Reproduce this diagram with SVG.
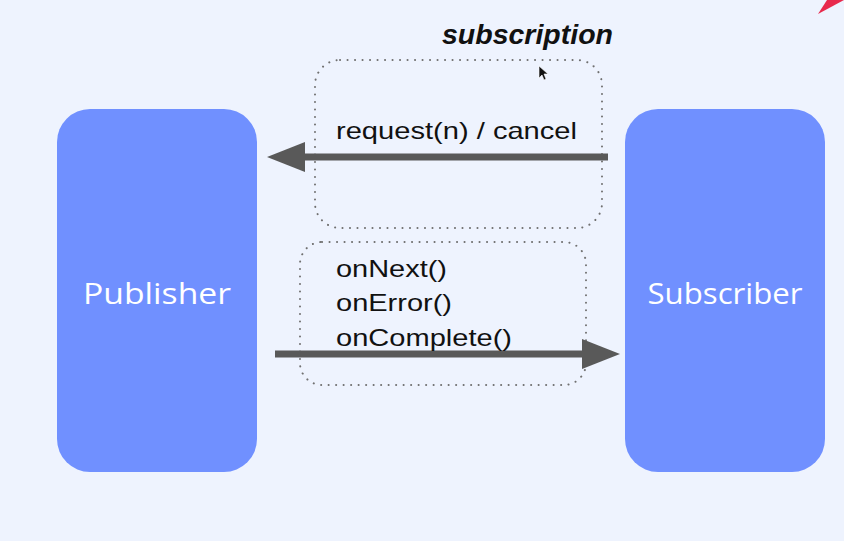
<svg xmlns="http://www.w3.org/2000/svg" width="844" height="541" viewBox="0 0 844 541">
  <style>
    .node { fill: #7090FF; }
    .nlabel { font-family: "Open Sans", "Noto Sans", sans-serif; font-size: 30px; fill: #FFFFFF; text-anchor: middle; }
    .lbl { font-family: "Liberation Sans", Arial, sans-serif; font-size: 24px; fill: #111111; }
    .dotbox { fill: none; stroke: #707070; stroke-width: 2; stroke-dasharray: 0.1 7.4; stroke-linecap: round; }
    .arrow { stroke: #595959; stroke-width: 7; fill: none; }
  </style>
  <defs>
    <marker id="head" markerUnits="userSpaceOnUse" markerWidth="40" markerHeight="32" refX="0" refY="15" orient="auto">
      <path d="M0,0 L38,15 L0,30 Z" fill="#595959"/>
    </marker>
  </defs>
  <rect x="0" y="0" width="844" height="541" fill="#EEF3FE"/>
  <polygon points="818,14 827,0 844,0" fill="#E8294C"/>

  <g id="subscription-label">
    <text x="442" y="44" font-family="Liberation Sans, Arial, sans-serif" font-size="27" font-weight="bold" font-style="italic" fill="#111111" textLength="171" lengthAdjust="spacingAndGlyphs">subscription</text>
  </g>

  <g id="subscription-box">
    <rect class="dotbox" x="315" y="60" width="287" height="168" rx="25"/>
  </g>
  <g id="signals-box">
    <rect class="dotbox" x="300" y="242" width="286" height="143" rx="22"/>
  </g>

  <g id="publisher">
    <rect class="node" x="57" y="109" width="200" height="363" rx="33"/>
    <text class="nlabel" x="157" y="304" textLength="148" lengthAdjust="spacingAndGlyphs">Publisher</text>
  </g>
  <g id="subscriber">
    <rect class="node" x="625" y="109" width="200" height="363" rx="33"/>
    <text class="nlabel" x="725" y="304" textLength="155" lengthAdjust="spacingAndGlyphs">Subscriber</text>
  </g>

  <g id="connectors">
    <line class="arrow" x1="608" y1="157" x2="305" y2="157" marker-end="url(#head)"/>
    <line class="arrow" x1="275" y1="354" x2="582" y2="354" marker-end="url(#head)"/>
  </g>

  <g id="labels">
    <text class="lbl" x="336" y="139" font-size="25" textLength="241" lengthAdjust="spacingAndGlyphs">request(n) / cancel</text>
    <text class="lbl" x="336" y="277" textLength="111" lengthAdjust="spacingAndGlyphs">onNext()</text>
    <text class="lbl" x="336" y="311" textLength="116" lengthAdjust="spacingAndGlyphs">onError()</text>
    <text class="lbl" x="336" y="346" textLength="176" lengthAdjust="spacingAndGlyphs">onComplete()</text>
  </g>

  <g id="cursor">
    <path d="M539,66 L539,78 L542,75 L544,80 L546,79 L544,74 L548,74 Z" fill="#111111" stroke="#FFFFFF" stroke-width="0.6"/>
  </g>
</svg>
